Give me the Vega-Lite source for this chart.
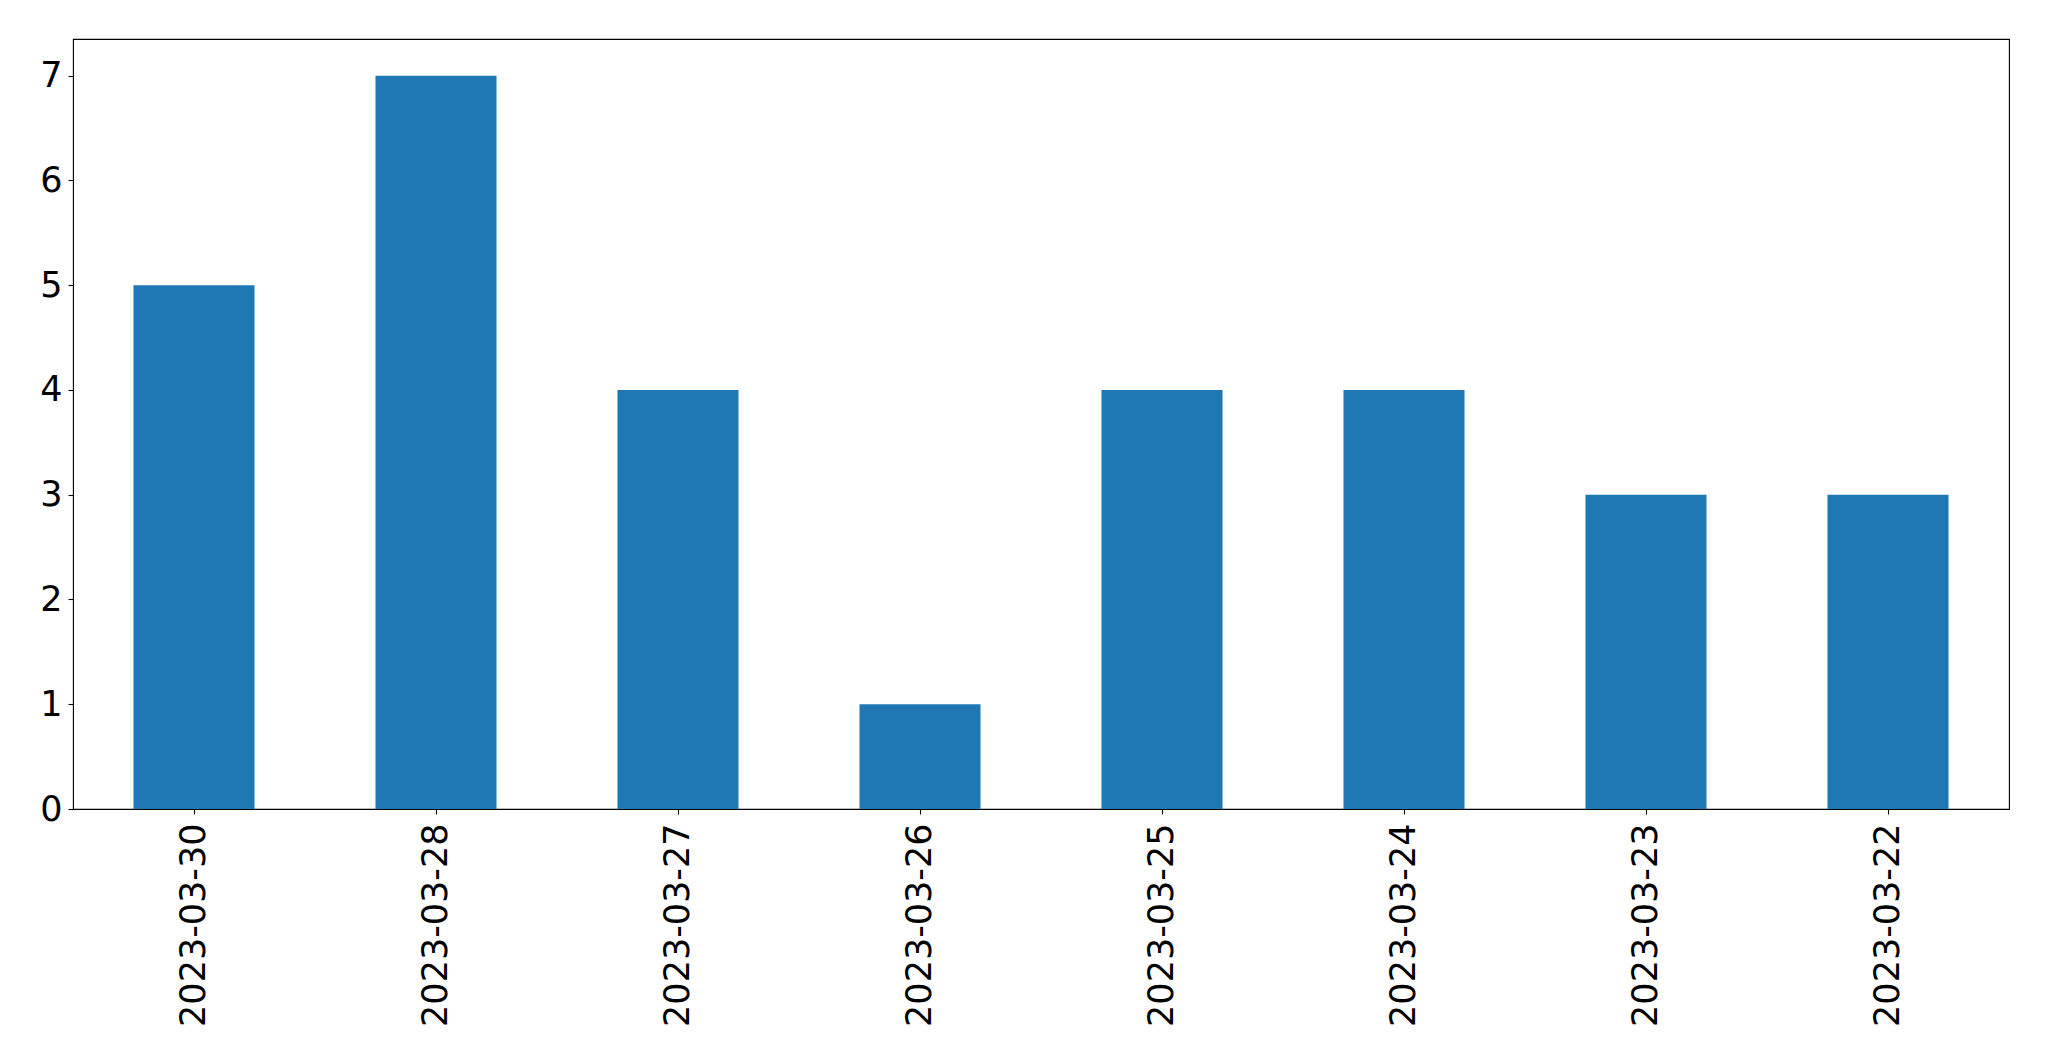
{
  "$schema": "https://vega.github.io/schema/vega-lite/v6.json",
  "autosize": {"type": "none"},
  "padding": {"left": 73, "top": 39, "right": 40, "bottom": 252},
  "width": 1936,
  "height": 770,
  "background": "white",
  "config": {
    "view": {"stroke": "black", "strokeWidth": 1.1},
    "font": "DejaVu Sans",
    "axis": {
      "labelFont": "DejaVu Sans",
      "labelFontSize": 35,
      "labelColor": "black",
      "labelLimit": 0,
      "tickColor": "black",
      "tickSize": 5,
      "tickWidth": 1.1,
      "domain": false,
      "grid": false,
      "title": null
    }
  },
  "data": {
    "values": [
      {"date": "2023-03-30", "count": 5},
      {"date": "2023-03-28", "count": 7},
      {"date": "2023-03-27", "count": 4},
      {"date": "2023-03-26", "count": 1},
      {"date": "2023-03-25", "count": 4},
      {"date": "2023-03-24", "count": 4},
      {"date": "2023-03-23", "count": 3},
      {"date": "2023-03-22", "count": 3}
    ]
  },
  "mark": {"type": "bar", "color": "#1f77b4"},
  "encoding": {
    "x": {
      "field": "date",
      "type": "nominal",
      "sort": null,
      "scale": {"paddingInner": 0.5, "paddingOuter": 0.25},
      "axis": {"labelAngle": -90, "labelAlign": "right", "labelBaseline": "middle", "labelPadding": 9}
    },
    "y": {
      "field": "count",
      "type": "quantitative",
      "scale": {"domain": [0, 7.35], "nice": false},
      "axis": {"values": [0, 1, 2, 3, 4, 5, 6, 7], "labelPadding": 6}
    }
  }
}
